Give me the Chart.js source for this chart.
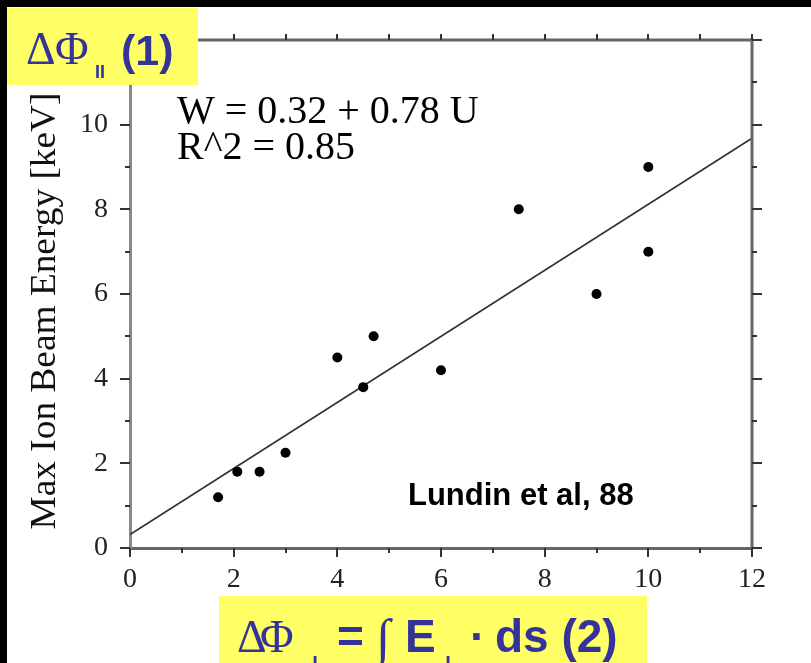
<!DOCTYPE html>
<html lang="en">
<head>
  <meta charset="UTF-8">
  <title>Max Ion Beam Energy</title>
  <script src="https://cdn.jsdelivr.net/npm/chart.js@4.4.1/dist/chart.umd.min.js"></script>
  <style>
    html, body { margin: 0; padding: 0; background: #fff; overflow: hidden; }
    canvas { display: block; }
  </style>
</head>
<body>
  <canvas id="beamChart" width="811" height="663"></canvas>

  <script>
    // measured points: potential drop U [kV] vs max ion beam energy W [keV]
    const pointsU = [1.7, 2.07, 2.5, 3.0, 4.0, 4.5, 4.7, 6.0, 7.5, 9.0, 10.0, 10.0];
    const pointsW = [1.2, 1.8, 1.8, 2.25, 4.5, 3.8, 5.0, 4.2, 8.0, 6.0, 9.0, 7.0];

    // fit line W = 0.32 + 0.78 U, drawn across the whole axis
    const fitU = [0, 12];
    const fitW = [0.32, 9.68];

    const axisMin = 0;
    const axisMax = 12;
    const xLabels = [0, 2, 4, 6, 8, 10, 12];
    const yLabels = [0, 2, 4, 6, 8, 10];

    const navy = '#333399';
    const yellow = '#ffff66';

    // frame on top/right, outward ticks on all sides, notes and yellow boxes
    const framePlugin = {
      id: 'frame',
      beforeDraw(chart) {
        const ctx = chart.ctx;
        ctx.save();
        ctx.fillStyle = '#fff';
        ctx.fillRect(0, 0, chart.width, chart.height);
        ctx.fillStyle = '#000';
        ctx.fillRect(0, 0, chart.width, 7);
        ctx.fillRect(0, 0, 7, chart.height);
        ctx.restore();
      },
      afterDraw(chart) {
        const ctx = chart.ctx;
        const a = chart.chartArea;
        const xs = chart.scales.x;
        const ys = chart.scales.y;
        ctx.save();

        // top and right frame
        ctx.strokeStyle = '#666';
        ctx.lineWidth = 3;
        ctx.beginPath();
        ctx.moveTo(a.left, a.top);
        ctx.lineTo(a.right, a.top);
        ctx.lineTo(a.right, a.bottom);
        ctx.stroke();

        // ticks
        ctx.strokeStyle = '#333';
        ctx.lineWidth = 2;
        ctx.beginPath();
        xs.ticks.forEach(t => {
          const px = Math.round(xs.getPixelForValue(t.value));
          const len = t.value % 2 === 0 ? 9 : 5;
          ctx.moveTo(px, a.bottom);
          ctx.lineTo(px, a.bottom + len);
          ctx.moveTo(px, a.top);
          ctx.lineTo(px, a.top - 6);
        });
        ys.ticks.forEach(t => {
          const py = Math.round(ys.getPixelForValue(t.value));
          const len = t.value % 2 === 0 ? 10 : 5;
          ctx.moveTo(a.left, py);
          ctx.lineTo(a.left - len, py);
          ctx.moveTo(a.right, py);
          ctx.lineTo(a.right + len, py);
        });
        ctx.stroke();

        // y axis title
        ctx.fillStyle = '#111';
        ctx.font = '36px "Liberation Serif"';
        ctx.textAlign = 'center';
        ctx.textBaseline = 'middle';
        ctx.save();
        ctx.translate(46, 311);
        ctx.rotate(-Math.PI / 2);
        const title = 'Max Ion Beam Energy [keV]';
        const tw = ctx.measureText(title).width;
        ctx.scale(437 / tw, 1);
        ctx.fillText(title, 0, 0);
        ctx.restore();

        // fit equation
        ctx.fillStyle = '#000';
        ctx.textAlign = 'left';
        ctx.textBaseline = 'alphabetic';
        ctx.font = '40px "Liberation Serif"';
        ctx.fillText('W = 0.32 + 0.78 U', 177, 123);
        ctx.fillText('R^2 = 0.85', 177, 159);

        // reference
        ctx.font = 'bold 31px "Liberation Sans"';
        ctx.fillText('Lundin et al, 88', 408, 505);

        // top-left label box
        ctx.fillStyle = yellow;
        ctx.fillRect(7, 8, 191, 77);
        ctx.fillStyle = navy;
        ctx.font = '46px "Liberation Serif"';
        ctx.fillText('\u0394', 26, 64);
        ctx.fillText('\u03A6', 55, 64);
        ctx.font = 'bold 18px "Liberation Sans"';
        ctx.fillText('II', 95, 78);
        ctx.font = 'bold 43px "Liberation Sans"';
        ctx.fillText('(1)', 121, 65);

        // bottom label box
        ctx.fillStyle = yellow;
        ctx.fillRect(219, 596, 428, 67);
        ctx.fillStyle = navy;
        ctx.font = '46px "Liberation Serif"';
        ctx.fillText('\u0394', 237, 652);
        ctx.fillText('\u03A6', 260, 652);
        ctx.font = '52px "Liberation Serif"';
        ctx.fillText('\u222B', 376, 655);
        ctx.font = 'bold 22px "Liberation Sans"';
        ctx.fillText('|', 312, 672);
        ctx.fillText('|', 445, 672);
        ctx.font = 'bold 46px "Liberation Sans"';
        ctx.fillText('=', 337, 652);
        ctx.fillText('E', 405, 652);
        ctx.fillText('\u00B7', 470, 652);
        ctx.fillText('ds (2)', 495, 652);

        ctx.restore();
      }
    };

    const tickFont = { family: 'Liberation Serif', size: 28 };

    new Chart(document.getElementById('beamChart').getContext('2d'), {
      type: 'scatter',
      data: {
        datasets: [
          {
            type: 'line',
            label: 'fit',
            data: fitU.map((u, i) => ({ x: u, y: fitW[i] })),
            borderColor: '#333',
            borderWidth: 1.8,
            pointRadius: 0,
            fill: false,
            order: 2
          },
          {
            label: 'events',
            data: pointsU.map((u, i) => ({ x: u, y: pointsW[i] })),
            pointRadius: 5,
            pointBackgroundColor: '#000',
            pointBorderColor: '#000',
            pointBorderWidth: 0,
            order: 1
          }
        ]
      },
      options: {
        responsive: false,
        animation: false,
        layout: { padding: { top: 40, right: 59, left: 0, bottom: 0 } },
        plugins: {
          legend: { display: false },
          tooltip: { enabled: false }
        },
        scales: {
          x: {
            type: 'linear',
            min: axisMin,
            max: axisMax,
            grid: { display: false, drawTicks: false },
            border: { display: true, color: '#666', width: 3 },
            ticks: {
              stepSize: 1,
              autoSkip: false,
              maxRotation: 0,
              padding: 15,
              color: '#222',
              font: tickFont,
              callback: v => xLabels.includes(v) ? String(v) : ''
            },
            afterFit: s => { s.height = 115; }
          },
          y: {
            type: 'linear',
            min: axisMin,
            max: axisMax,
            grid: { display: false, drawTicks: false },
            border: { display: true, color: '#888', width: 3 },
            ticks: {
              stepSize: 1,
              autoSkip: false,
              padding: 22,
              color: '#222',
              font: tickFont,
              callback: v => yLabels.includes(v) ? String(v) : ''
            },
            afterFit: s => { s.width = 130; }
          }
        }
      },
      plugins: [framePlugin]
    });
  </script>
</body>
</html>
